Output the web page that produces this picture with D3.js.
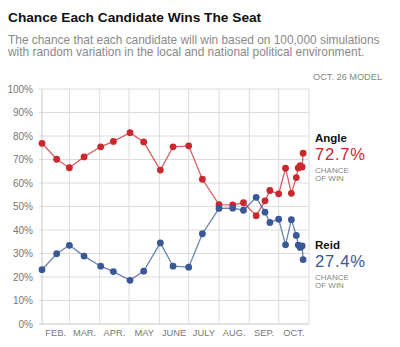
<!DOCTYPE html>
<html>
<head>
<meta charset="UTF-8">
<title>Chance Each Candidate Wins The Seat</title>
<script src="https://d3js.org/d3.v7.min.js"></script>
<style>
    body { margin: 0; background: #fff; font-family: "Liberation Sans", Arial, sans-serif; }
</style>
</head>
<body>
<svg id="chart"></svg>
<script>
    const width = 400;
    const height = 347;

    // model run dates and win chances (%)
    const dates = ["2010-02-01", "2010-02-16", "2010-03-01", "2010-03-16", "2010-04-02", "2010-04-15",
        "2010-05-02", "2010-05-16", "2010-06-02", "2010-06-15", "2010-07-01", "2010-07-15",
        "2010-08-01", "2010-08-15", "2010-08-26", "2010-09-08", "2010-09-17", "2010-09-22",
        "2010-10-01", "2010-10-08", "2010-10-14", "2010-10-19", "2010-10-21", "2010-10-23",
        "2010-10-25", "2010-10-26"];
    const angle = [76.9, 70.1, 66.5, 71.1, 75.4, 77.7, 81.4, 77.5, 65.5, 75.4, 75.8, 61.6,
        50.8, 50.7, 51.6, 46.1, 52.4, 56.8, 55.4, 66.3, 55.6, 62.3, 66.4, 67.4, 66.8, 72.7];
    const reid = [23.1, 29.9, 33.5, 28.9, 24.6, 22.3, 18.6, 22.5, 34.5, 24.6, 24.2, 38.4,
        49.2, 49.3, 48.4, 53.9, 47.6, 43.2, 44.6, 33.7, 44.4, 37.7, 33.6, 32.6, 33.2, 27.4];
    const months = ["FEB.", "MAR.", "APR.", "MAY", "JUNE", "JULY", "AUG.", "SEP.", "OCT."];
    const yTicks = [0, 10, 20, 30, 40, 50, 60, 70, 80, 90, 100];

    const red = "#c9282e", blue = "#3a5896";

    const svg = d3.select("#chart").attr("width", width).attr("height", height);

    const margin = {left: 42, right: 91, top: 89, bottom: 23};
    const parse = d3.timeParse("%Y-%m-%d");
    const x = d3.scaleTime()
        .domain([new Date(2010, 1, 1), new Date(2010, 10, 1)])
        .range([margin.left, width - margin.right]);
    const y = d3.scaleLinear().domain([0, 100]).range([height - margin.bottom, margin.top]);

    // header
    svg.append("text").attr("x", 8).attr("y", 22)
        .attr("font-size", 13.7).attr("font-weight", "bold").attr("fill", "#111")
        .text("Chance Each Candidate Wins The Seat");
    const sub = svg.append("text").attr("font-size", 11.9).attr("fill", "#8a8a8a");
    sub.append("tspan").attr("x", 8).attr("y", 43.5)
        .text("The chance that each candidate will win based on 100,000 simulations");
    sub.append("tspan").attr("x", 8).attr("y", 56)
        .text("with random variation in the local and national political environment.");
    svg.append("text").attr("x", 382).attr("y", 80).attr("text-anchor", "end")
        .attr("font-size", 9.2).attr("fill", "#888").text("OCT. 26 MODEL");

    // grid
    const grid = svg.append("g");
    grid.selectAll("line.h").data(yTicks).join("line")
        .attr("x1", margin.left - 3).attr("x2", x.range()[1])
        .attr("y1", d => y(d)).attr("y2", d => y(d))
        .attr("stroke", d => d === 0 ? "#c8c8c8" : "#dcdcdc").attr("stroke-width", 1);
    const monthStarts = d3.timeMonth.range(new Date(2010, 1, 1), new Date(2010, 10, 2));
    grid.selectAll("line.v").data(monthStarts).join("line")
        .attr("x1", d => x(d)).attr("x2", d => x(d))
        .attr("y1", y(100)).attr("y2", y(0))
        .attr("stroke", (d, i) => i === 0 ? "#c8c8c8" : "#dcdcdc").attr("stroke-width", 1);

    svg.append("g").selectAll("text").data(yTicks).join("text")
        .attr("x", 33).attr("y", d => y(d) + 3.5).attr("text-anchor", "end")
        .attr("font-size", 10).attr("fill", "#777").text(d => d + "%");

    svg.append("g").selectAll("text").data(months).join("text")
        .attr("x", (d, i) => (x(monthStarts[i]) + x(monthStarts[i + 1])) / 2)
        .attr("y", 336).attr("text-anchor", "middle")
        .attr("font-size", 9.3).attr("fill", "#777").text(d => d);

    // series
    function drawSeries(values, color) {
        const pts = dates.map((d, i) => ({date: parse(d), v: values[i]}));
        svg.append("path").datum(pts)
            .attr("fill", "none").attr("stroke", color).attr("stroke-opacity", 0.75)
            .attr("stroke-width", 1.3)
            .attr("d", d3.line().x(d => x(d.date)).y(d => y(d.v)));
        svg.append("g").selectAll("circle").data(pts).join("circle")
            .attr("cx", d => x(d.date)).attr("cy", d => y(d.v)).attr("r", 3.4)
            .attr("fill", color);
    }
    drawSeries(angle, red);
    drawSeries(reid, blue);

    // end labels
    function endLabel(name, value, color, top) {
        const g = svg.append("g").attr("transform", `translate(315,${top})`);
        g.append("text").attr("y", 0).attr("font-size", 11.5).attr("font-weight", "bold")
            .attr("fill", "#111").text(name);
        g.append("text").attr("y", 18.3).attr("font-size", 16.6).attr("fill", color)
            .attr("textLength", 50).text(value.toFixed(1) + "%");
        const note = g.append("text").attr("font-size", 8).attr("fill", "#888");
        note.append("tspan").attr("x", 0).attr("y", 31).text("CHANCE");
        note.append("tspan").attr("x", 0).attr("y", 38.7).text("OF WIN");
    }
    endLabel("Angle", angle[angle.length - 1], red, 142);
    endLabel("Reid", reid[reid.length - 1], blue, 249);
</script>
</body>
</html>
